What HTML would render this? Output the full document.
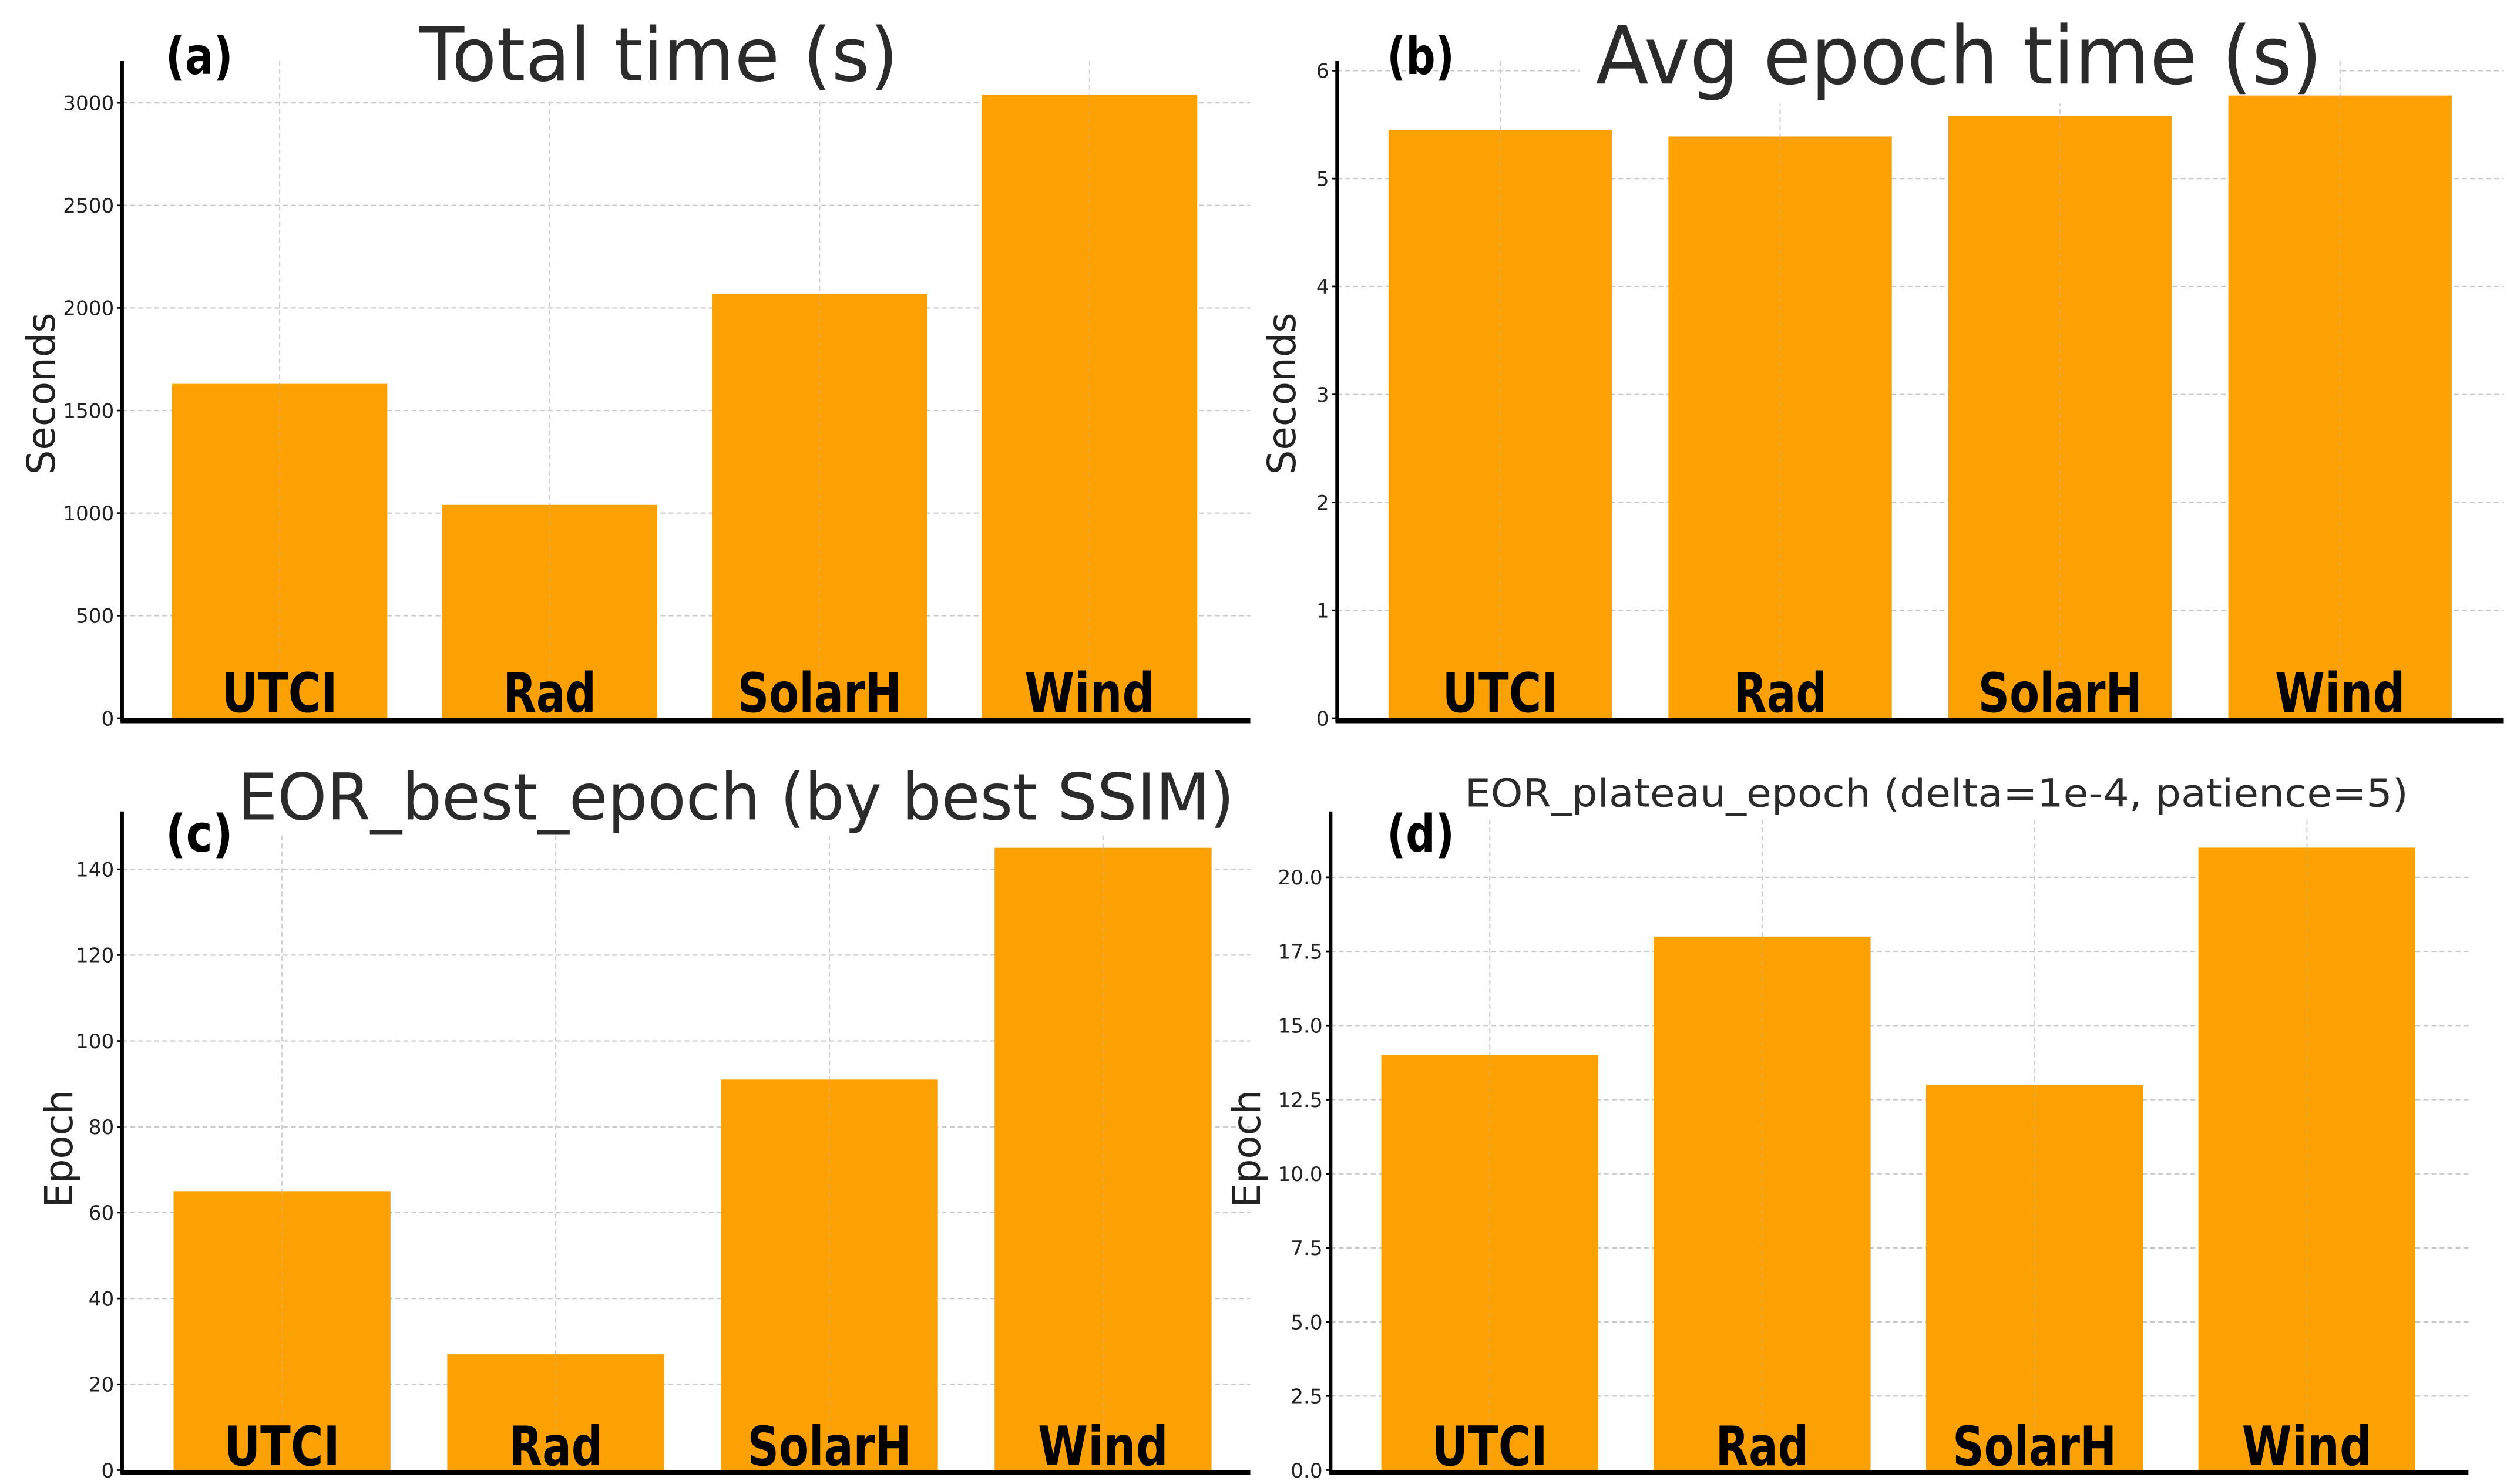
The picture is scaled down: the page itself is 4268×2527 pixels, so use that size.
<!DOCTYPE html>
<html><head><meta charset="utf-8">
<style>
html,body{margin:0;padding:0;background:#fff;}
svg{display:block;}
.tick{font-family:"DejaVu Sans","Liberation Sans",sans-serif;font-size:12.5px;fill:#222;}
.ttl{font-family:"DejaVu Sans","Liberation Sans",sans-serif;fill:#2b2b2b;}
.xl{font-family:"DejaVu Sans","Liberation Sans",sans-serif;font-weight:bold;font-size:34px;fill:#000;}
.pl{font-family:"DejaVu Sans","Liberation Sans",sans-serif;font-weight:bold;font-size:32px;fill:#000;}
.yl{font-family:"DejaVu Sans","Liberation Sans",sans-serif;font-size:24px;fill:#222;}
</style></head>
<body>
<svg id="chart" width="4268" height="2527" viewBox="0 0 1560 923.6" preserveAspectRatio="none" xmlns="http://www.w3.org/2000/svg">
<rect width="1560" height="923.6" fill="#fff"/>
</svg>
<script>
const categories = ["UTCI","Rad","SolarH","Wind"];
const totalTime = [1630,1040,2070,3040];
const avgEpochTime = [5.45,5.39,5.58,5.77];
const bestEpoch = [65,27,91,145];
const plateauEpoch = [14,18,13,21];
const ticksA = [0,500,1000,1500,2000,2500,3000];
const ticksB = [0,1,2,3,4,5,6];
const ticksC = [0,20,40,60,80,100,120,140];
const ticksD = [0,2.5,5,7.5,10,12.5,15,17.5,20];
const tickLabelsD = ["0.0","2.5","5.0","7.5","10.0","12.5","15.0","17.5","20.0"];

const NS="http://www.w3.org/2000/svg";
const svg=document.getElementById('chart');
function mk(tag,attrs,parent){const e=document.createElementNS(NS,tag);for(const k in attrs)e.setAttribute(k,attrs[k]);(parent||svg).appendChild(e);return e;}

const panels=[
 {id:'a',vals:totalTime,ticks:ticksA,labels:ticksA.map(String),x0:76,x1:778,top:38,bottom:447,ymax:3000,ymaxPx:64,
  c0:174,step:168,bw:134,title:"Total time (s)",tx:410,ty:50,ts:46,tw:298,yl:"Seconds",ylx:34,yly:245,
  tag:"(a)",tagx:103,tagy:46,xlY:443,xlw:[72,58,102,81]},
 {id:'b',vals:avgEpochTime,ticks:ticksB,labels:ticksB.map(String),x0:832,x1:1558,top:38,bottom:447,ymax:6,ymaxPx:44,
  c0:933.5,step:174.2,bw:139,title:"Avg epoch time (s)",tx:1219,ty:52,ts:50,tw:452,yl:"Seconds",ylx:806,yly:245,
  tag:"(b)",tagx:863,tagy:46,xlY:443,xlw:[72,58,102,81]},
 {id:'c',vals:bestEpoch,ticks:ticksC,labels:ticksC.map(String),x0:76,x1:778,top:505,bottom:915,ymax:140,ymaxPx:541,
  c0:175.5,step:170.3,bw:135,title:"EOR_best_epoch (by best SSIM)",tx:458,ty:510,ts:40,tw:620,yl:"Epoch",ylx:45,yly:715,
  tag:"(c)",tagx:103,tagy:530,xlY:912,xlw:[72,58,102,81]},
 {id:'d',vals:plateauEpoch,ticks:ticksD,labels:tickLabelsD,x0:828,x1:1536,top:505,bottom:915,ymax:20,ymaxPx:546,
  c0:927,step:169.5,bw:135,title:"EOR_plateau_epoch (delta=1e-4, patience=5)",tx:1205,ty:502,ts:24,tw:587,yl:"Epoch",ylx:784,yly:715,
  tag:"(d)",tagx:863,tagy:530,xlY:912,xlw:[72,58,102,81]}
];

panels.forEach(p=>{
  const g=mk('g',{});
  
  
  const y=v=>p.bottom-(v/p.ymax)*(p.bottom-p.ymaxPx);
  const x=i=>p.c0+i*p.step;
  p.ticks.forEach((t,i)=>{
    if(t===0) return;
    const l=mk('line',{x1:p.x0,x2:p.x1,y1:y(t),y2:y(t),stroke:'#c8c8c8','stroke-width':0.8,'stroke-dasharray':'3,2'},g);
    
    
  });
  categories.forEach((c,i)=>{
    const l=mk('line',{x1:x(i),x2:x(i),y1:p.top,y2:p.bottom,stroke:'#d0d0d0','stroke-width':0.8,'stroke-dasharray':'3,2'},g);
    
    
  });
  // title background hides gridlines only
  mk('rect',{x:p.tx-p.tw/2-10,y:p.ty-p.ts*0.85,width:p.tw+20,height:p.ts*1.1,fill:'#fff'},g);
  categories.forEach((c,i)=>{
    const v=p.vals[i];
    const r=mk('rect',{x:x(i)-p.bw/2,y:y(v),width:p.bw,height:p.bottom-y(v),fill:'#fca103'},g);
    
    
  });
  categories.forEach((c,i)=>{
    mk('line',{x1:x(i),x2:x(i),y1:y(p.vals[i]),y2:p.bottom,stroke:'#e8a848','stroke-width':0.6,'stroke-dasharray':'3,2'},g);
  });
  const t=mk('text',{x:p.tx,y:p.ty,'text-anchor':'middle','font-size':p.ts,class:'ttl',textLength:p.tw,lengthAdjust:'spacingAndGlyphs'},g);
  t.textContent=p.title;
  
  
  const tg=mk('text',{x:p.tagx,y:p.tagy,class:'pl',textLength:42,lengthAdjust:'spacingAndGlyphs'},g);
  tg.textContent=p.tag;
  
  
  const sl=mk('line',{x1:p.x0,x2:p.x0,y1:p.top,y2:p.bottom+2,stroke:'#000','stroke-width':2.2},g);
  
  
  const sb=mk('line',{x1:p.x0-1,x2:p.x1,y1:p.bottom+1.5,y2:p.bottom+1.5,stroke:'#000','stroke-width':3.2},g);
  
  
  p.ticks.forEach((tv,i)=>{
    mk('line',{x1:p.x0-3,x2:p.x0,y1:y(tv),y2:y(tv),stroke:'#000','stroke-width':1},g);
    const tl=mk('text',{x:p.x0-5,y:y(tv)+4.5,'text-anchor':'end',class:'tick'},g);
    tl.textContent=p.labels[i];
    
    
  });
  categories.forEach((c,i)=>{
    const xl=mk('text',{x:x(i),y:p.xlY,'text-anchor':'middle',class:'xl',textLength:p.xlw[i],lengthAdjust:'spacingAndGlyphs'},g);
    xl.textContent=c;
    
    
  });
  const yl=mk('text',{x:p.ylx,y:p.yly,'text-anchor':'middle',class:'yl',transform:'rotate(-90 '+p.ylx+' '+p.yly+')'},g);
  yl.textContent=p.yl;
  
  
});
</script>
</body></html>
